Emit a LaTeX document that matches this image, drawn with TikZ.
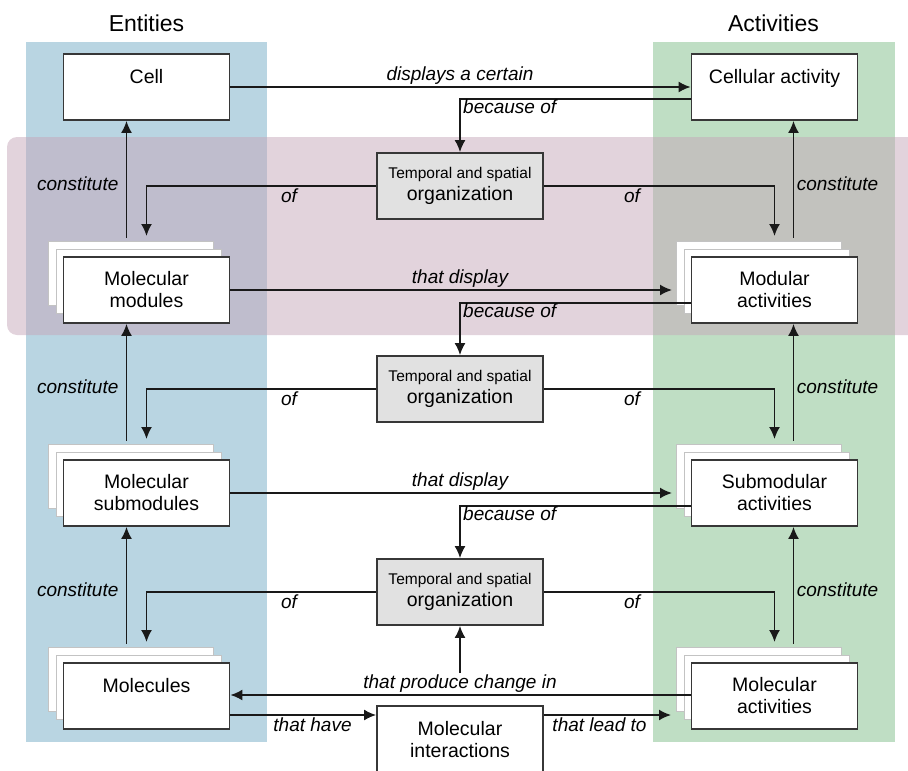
\documentclass[tikz,border=0pt]{standalone}
\usepackage{fontspec}
\setmainfont{Liberation Sans}
\usetikzlibrary{arrows.meta}
\definecolor{bandblue}{RGB}{185,213,226}
\definecolor{bandgreen}{RGB}{191,222,196}
\definecolor{bandpink}{RGB}{197,167,185}
\definecolor{tempfill}{RGB}{225,225,225}
\definecolor{boxline}{RGB}{55,55,55}
\definecolor{linecol}{RGB}{25,25,25}
\definecolor{backline}{RGB}{195,195,195}
\newcommand\boxfont{\fontsize{19.5}{22}\selectfont}
\newcommand\smallboxfont{\fontsize{15.5}{22}\selectfont}
\newcommand\labfont{\fontsize{19}{22}\selectfont\itshape}
\newcommand\headfont{\fontsize{23}{26}\selectfont}
\tikzset{
  box/.style={draw=boxline, line width=1.8pt, fill=white, minimum width=166pt,
    minimum height=66pt, inner sep=0pt, align=center, font=\boxfont},
  backbox/.style={draw=backline, line width=1pt, fill=white, minimum width=165pt,
    minimum height=64pt, inner sep=0pt},
  tbox/.style={box, fill=tempfill},
  lab/.style={font=\labfont, anchor=base, inner sep=0pt},
  head/.style={font=\headfont, anchor=base, inner sep=0pt},
  conn/.style={line width=1.7pt, draw=linecol, -{Latex[length=12pt,width=11pt]}},
}
\newcommand\mystack[4]{%
  \node[backbox] (#1-b2) at (#2-16,#3-16.5) {};
  \node[backbox] (#1-b1) at (#2-8,#3-8.5) {};
  \node[box] (#1) at (#2,#3) {#4};
}
\begin{document}
\begin{tikzpicture}[x=1pt,y=-1pt]
\useasboundingbox (0,0) rectangle (908,771);
% background bands
\fill[bandblue] (26,42) rectangle (267,742);
\fill[bandgreen] (653,42) rectangle (895,742);
\fill[bandpink, fill opacity=0.5, rounded corners=10pt] (7,137) rectangle (920,335);
% headers
\node[head] (hEnt) at (146.5,31.7) {Entities};
\node[head] (hAct) at (773.5,31.7) {Activities};
% boxes
\node[box] (cell) at (146.5,87) {Cell\\\mbox{}};
\node[box] (cact) at (774.5,87) {Cellular activity\\\mbox{}};
\mystack{mm}{146.5}{290}{Molecular\\modules}
\mystack{ma}{774.5}{290}{Modular\\activities}
\mystack{msm}{146.5}{493}{Molecular\\submodules}
\mystack{sma}{774.5}{493}{Submodular\\activities}
\mystack{mol}{146.5}{696}{Molecules\\\mbox{}}
\mystack{mac}{774.5}{696}{Molecular\\activities}
\node[tbox] (t1) at (460,186) {{\smallboxfont Temporal and spatial}\\organization};
\node[tbox] (t2) at (460,389) {{\smallboxfont Temporal and spatial}\\organization};
\node[tbox] (t3) at (460,592) {{\smallboxfont Temporal and spatial}\\organization};
\node[box, minimum height=67pt] (mi) at (460,739.5) {Molecular\\interactions};
% row 1
\draw[conn] (cell.east) -- (cact.west);
\node[lab] (l-dac) at (460,80) {displays a certain};
\draw[conn] ([yshift=-12pt]cact.west) -| (t1.north);
\node[lab, anchor=base west] (l-bo1) at (463,113) {because of};
\draw[conn, shorten >=5pt] (t1.west) -| (mm.north |- mm-b2.north);
\draw[conn, shorten >=5pt] (t1.east) -| (ma.north |- ma-b2.north);
\node[lab] (l-of1l) at (289,202) {of};
\node[lab] (l-of1r) at (632,202) {of};
\draw[conn, shorten <=3.5pt] ([xshift=-20pt]cell.south |- mm-b2.north) -- ([xshift=-20pt]cell.south);
\draw[conn, shorten <=3.5pt] ([xshift=19pt]cact.south |- ma-b2.north) -- ([xshift=19pt]cact.south);
\node[lab] (l-c1l) at (77.7,190) {constitute};
\node[lab] (l-c1r) at (837.5,190) {constitute};
% row 2
\draw[conn, shorten >=3.5pt] (mm.east) -- (ma-b2.west |- mm.east);
\node[lab] (l-td1) at (460,283) {that display};
\draw[conn] ([yshift=-13pt]ma.west) -| (t2.north);
\node[lab, anchor=base west] (l-bo2) at (463,317) {because of};
\draw[conn, shorten >=5pt] (t2.west) -| (msm.north |- msm-b2.north);
\draw[conn, shorten >=5pt] (t2.east) -| (sma.north |- sma-b2.north);
\node[lab] (l-of2l) at (289,405) {of};
\node[lab] (l-of2r) at (632,405) {of};
\draw[conn, shorten <=3.5pt] ([xshift=-20pt]mm.south |- msm-b2.north) -- ([xshift=-20pt]mm.south);
\draw[conn, shorten <=3.5pt] ([xshift=19pt]ma.south |- sma-b2.north) -- ([xshift=19pt]ma.south);
\node[lab] (l-c2l) at (77.7,393) {constitute};
\node[lab] (l-c2r) at (837.5,393) {constitute};
% row 3
\draw[conn, shorten >=3.5pt] (msm.east) -- (sma-b2.west |- msm.east);
\node[lab] (l-td2) at (460,486) {that display};
\draw[conn] ([yshift=-13pt]sma.west) -| (t3.north);
\node[lab, anchor=base west] (l-bo3) at (463,520) {because of};
\draw[conn, shorten >=5pt] (t3.west) -| (mol.north |- mol-b2.north);
\draw[conn, shorten >=5pt] (t3.east) -| (mac.north |- mac-b2.north);
\node[lab] (l-of3l) at (289,608) {of};
\node[lab] (l-of3r) at (632,608) {of};
\draw[conn, shorten <=3.5pt] ([xshift=-20pt]msm.south |- mol-b2.north) -- ([xshift=-20pt]msm.south);
\draw[conn, shorten <=3.5pt] ([xshift=19pt]sma.south |- mac-b2.north) -- ([xshift=19pt]sma.south);
\node[lab] (l-c3l) at (77.7,596) {constitute};
\node[lab] (l-c3r) at (837.5,596) {constitute};
% row 4
\draw[conn] ([yshift=1pt]mac.west) -- ([yshift=1pt]mol.east);
\node[lab] (l-pci) at (460,688) {that produce change in};
\coordinate (pc) at (460,673);
\draw[conn] (pc) -- (t3.south);
\coordinate (hv) at ([yshift=-19pt]mol.east);
\draw[conn] (hv) -- (hv -| mi.west);
\node[lab] (l-th) at (312.5,731) {that have};
\draw[conn, shorten >=4.5pt] (hv -| mi.east) -- (hv -| mac-b2.west);
\node[lab] (l-tlt) at (599.5,731) {that lead to};
\end{tikzpicture}
\end{document}
